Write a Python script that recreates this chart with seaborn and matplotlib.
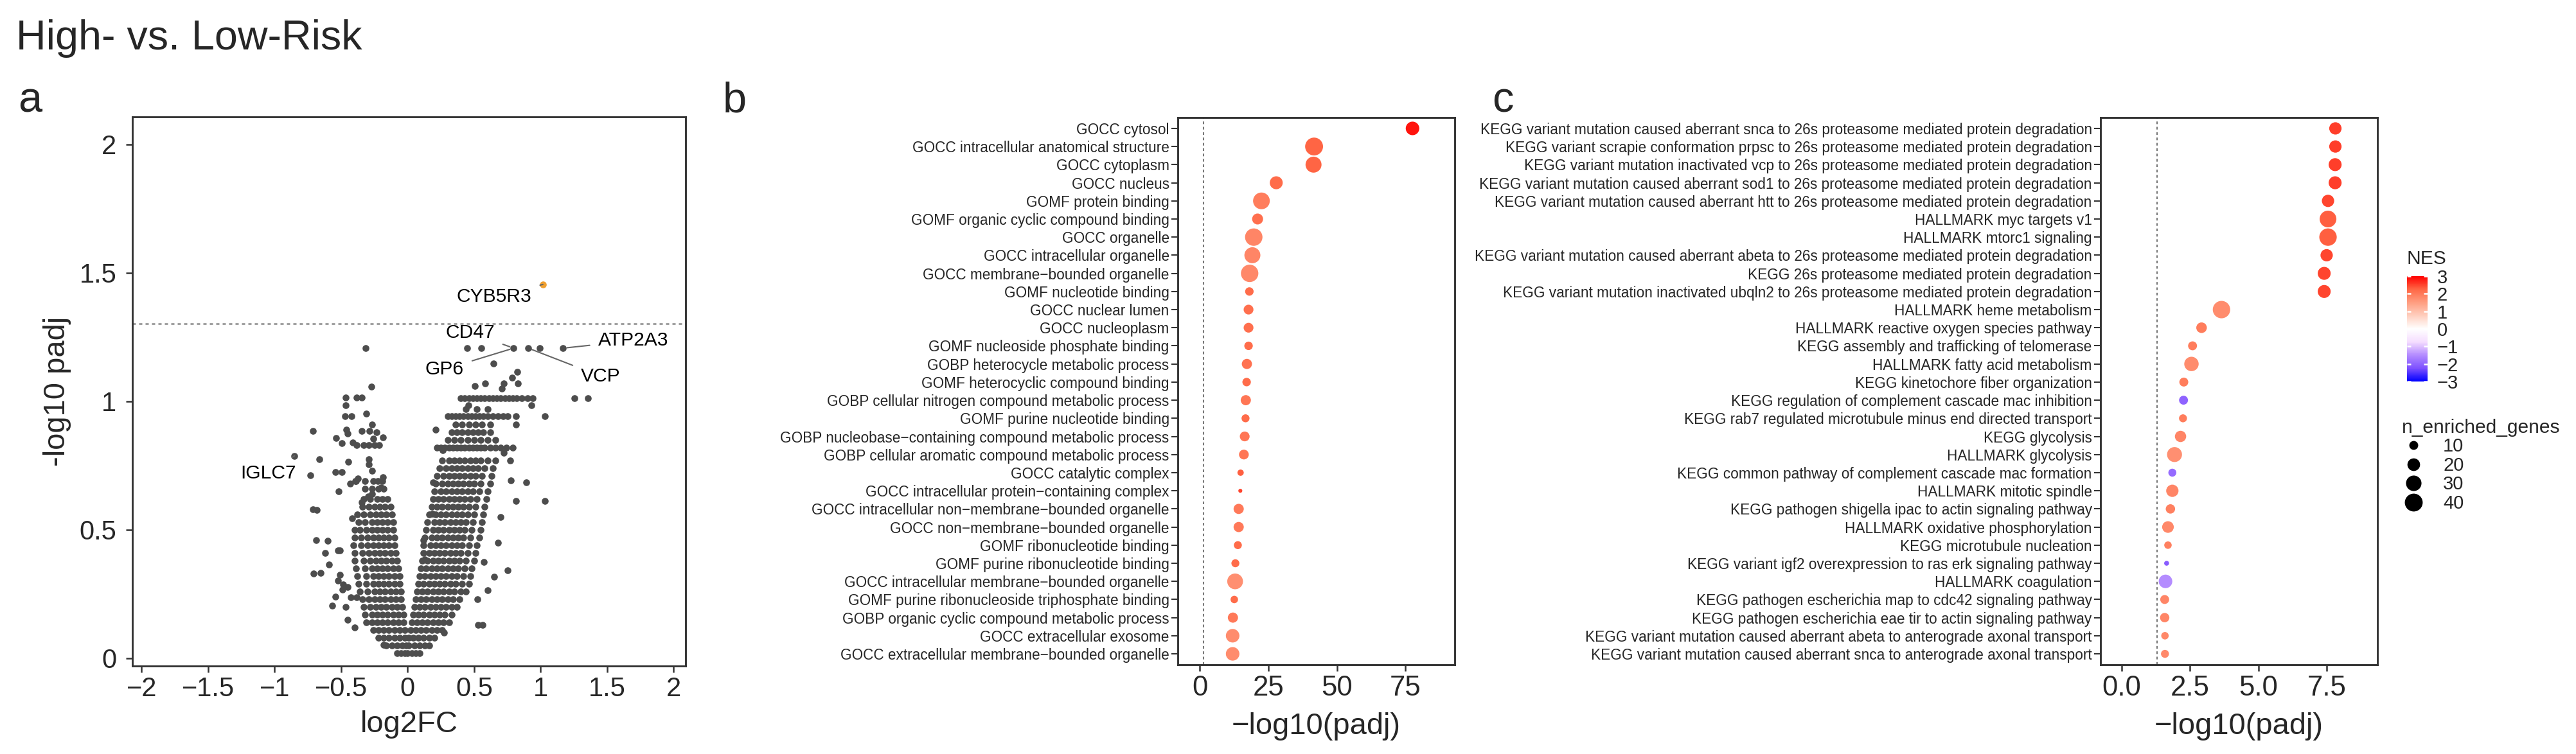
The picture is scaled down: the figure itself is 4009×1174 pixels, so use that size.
import numpy as np
import matplotlib
matplotlib.use("Agg")
import matplotlib.pyplot as plt
import seaborn as sns
from matplotlib.colors import LinearSegmentedColormap, Normalize
from matplotlib.cm import ScalarMappable
from matplotlib.lines import Line2D

# ---------------- data: volcano (panel a) ----------------
# right arm, log2FC values read along each -log10 padj level
up_levels = [0.02, 0.05, 0.08, 0.11, 0.14, 0.17, 0.20, 0.23, 0.26, 0.29, 0.32,
             0.35, 0.38, 0.41, 0.44, 0.47, 0.50, 0.53, 0.56, 0.59, 0.62, 0.65,
             0.68, 0.71, 0.74, 0.77, 0.82, 0.85, 0.88, 0.91, 0.943, 0.97, 1.013]
up_fc = [
    [0.00, 0.03, 0.06, 0.09],
    [0.01, 0.05, 0.09, 0.13, 0.16],
    [0.01, 0.04, 0.08, 0.12, 0.16, 0.20],
    [0.02, 0.06, 0.10, 0.14, 0.18, 0.22, 0.26],
    [0.03, 0.07, 0.11, 0.15, 0.19, 0.23, 0.27, 0.31],
    [0.04, 0.08, 0.12, 0.16, 0.20, 0.24, 0.28, 0.33],
    [0.05, 0.09, 0.13, 0.17, 0.21, 0.25, 0.29, 0.33, 0.37],
    [0.06, 0.10, 0.14, 0.18, 0.22, 0.26, 0.30, 0.34, 0.39],
    [0.07, 0.11, 0.15, 0.19, 0.23, 0.27, 0.31, 0.35, 0.40, 0.44],
    [0.08, 0.12, 0.16, 0.20, 0.24, 0.28, 0.32, 0.36, 0.41, 0.46],
    [0.09, 0.13, 0.17, 0.21, 0.25, 0.29, 0.33, 0.37, 0.42, 0.47],
    [0.10, 0.14, 0.18, 0.22, 0.26, 0.30, 0.34, 0.38, 0.43, 0.48],
    [0.11, 0.15, 0.19, 0.23, 0.27, 0.31, 0.35, 0.39, 0.44, 0.50],
    [0.12, 0.16, 0.20, 0.24, 0.28, 0.32, 0.36, 0.40, 0.45, 0.51],
    [0.12, 0.17, 0.21, 0.25, 0.29, 0.33, 0.37, 0.41, 0.46, 0.52],
    [0.13, 0.18, 0.22, 0.26, 0.30, 0.34, 0.38, 0.42, 0.47, 0.54],
    [0.14, 0.19, 0.23, 0.27, 0.31, 0.35, 0.39, 0.43, 0.48, 0.55],
    [0.15, 0.20, 0.24, 0.28, 0.32, 0.36, 0.40, 0.44, 0.49, 0.56],
    [0.16, 0.21, 0.25, 0.29, 0.33, 0.37, 0.41, 0.45, 0.50, 0.57],
    [0.18, 0.22, 0.26, 0.30, 0.34, 0.38, 0.42, 0.46, 0.51, 0.58],
    [0.19, 0.23, 0.27, 0.31, 0.35, 0.39, 0.43, 0.47, 0.52, 0.59],
    [0.20, 0.25, 0.29, 0.33, 0.37, 0.41, 0.45, 0.49, 0.54, 0.60],
    [0.21, 0.26, 0.30, 0.34, 0.38, 0.42, 0.46, 0.50, 0.55, 0.62],
    [0.22, 0.27, 0.31, 0.35, 0.39, 0.43, 0.47, 0.51, 0.56, 0.63],
    [0.24, 0.29, 0.33, 0.37, 0.41, 0.45, 0.49, 0.53, 0.58, 0.64],
    [0.26, 0.31, 0.35, 0.39, 0.43, 0.47, 0.51, 0.55, 0.60, 0.66],
    [0.22, 0.25, 0.28, 0.31, 0.34, 0.37, 0.40, 0.43, 0.46, 0.49, 0.52, 0.55,
     0.58, 0.62, 0.66, 0.70, 0.74, 0.79],
    [0.30, 0.35, 0.40, 0.45, 0.50, 0.55, 0.60, 0.66],
    [0.33, 0.37, 0.41, 0.45, 0.49, 0.53, 0.57, 0.62],
    [0.36, 0.41, 0.46, 0.51, 0.56, 0.62],
    [0.30, 0.33, 0.36, 0.39, 0.42, 0.45, 0.48, 0.51, 0.54, 0.57, 0.60, 0.64,
     0.68, 0.72, 0.75],
    [0.44, 0.52, 0.60],
    [0.40, 0.43, 0.46, 0.49, 0.52, 0.55, 0.58, 0.61, 0.64, 0.67, 0.70, 0.73,
     0.76, 0.79, 0.82, 0.86, 0.90, 0.94],
]

# left arm
down_levels = [0.02, 0.05, 0.08, 0.11, 0.14, 0.17, 0.20, 0.23, 0.26, 0.29, 0.32,
               0.35, 0.38, 0.41, 0.44, 0.47, 0.50, 0.53, 0.56, 0.59, 0.62, 0.66, 0.69]
down_fc = [
    [-0.02, -0.05, -0.08],
    [-0.01, -0.04, -0.08, -0.12, -0.16],
    [-0.02, -0.06, -0.10, -0.14, -0.18, -0.22],
    [-0.02, -0.06, -0.10, -0.14, -0.18, -0.22, -0.26],
    [-0.03, -0.07, -0.11, -0.15, -0.19, -0.23, -0.27, -0.31],
    [-0.03, -0.07, -0.11, -0.15, -0.19, -0.23, -0.27, -0.32],
    [-0.04, -0.08, -0.12, -0.16, -0.20, -0.24, -0.28, -0.33],
    [-0.05, -0.09, -0.13, -0.17, -0.21, -0.25, -0.29, -0.34],
    [-0.05, -0.09, -0.13, -0.17, -0.21, -0.25, -0.30, -0.36],
    [-0.06, -0.10, -0.14, -0.18, -0.22, -0.26, -0.31, -0.37],
    [-0.06, -0.10, -0.14, -0.18, -0.22, -0.26, -0.31, -0.38],
    [-0.07, -0.11, -0.15, -0.19, -0.23, -0.27, -0.32, -0.39],
    [-0.08, -0.12, -0.16, -0.20, -0.24, -0.28, -0.33, -0.40],
    [-0.09, -0.13, -0.17, -0.21, -0.25, -0.29, -0.34, -0.40],
    [-0.10, -0.14, -0.18, -0.22, -0.26, -0.30, -0.35, -0.41],
    [-0.10, -0.14, -0.18, -0.22, -0.26, -0.30, -0.35, -0.40],
    [-0.11, -0.15, -0.19, -0.23, -0.27, -0.31, -0.36, -0.40],
    [-0.11, -0.15, -0.19, -0.23, -0.27, -0.32, -0.37],
    [-0.12, -0.16, -0.20, -0.24, -0.28, -0.33, -0.38],
    [-0.13, -0.17, -0.21, -0.25, -0.29, -0.34],
    [-0.15, -0.19, -0.23, -0.28, -0.33],
    [-0.18, -0.22, -0.27, -0.32],
    [-0.19, -0.26, -0.32, -0.39],
]

# isolated genes outside the dense core (log2FC, -log10 padj)
stray_pts = [
    (-0.317, 1.207), (-0.274, 1.058), (-0.465, 1.014), (-0.386, 1.014), (-0.343, 1.014),
    (-0.468, 0.985), (-0.469, 0.943), (-0.421, 0.943), (-0.31, 0.953), (-0.713, 0.884),
    (-0.46, 0.89), (-0.45, 0.876), (-0.343, 0.884), (-0.285, 0.884), (-0.536, 0.857),
    (-0.493, 0.838), (-0.412, 0.841), (-0.266, 0.91), (-0.234, 0.879), (-0.185, 0.861),
    (-0.258, 0.855), (-0.383, 0.83), (-0.33, 0.83), (-0.29, 0.83), (-0.25, 0.83),
    (-0.214, 0.83), (-0.665, 0.776), (-0.851, 0.788), (-0.733, 0.712), (-0.541, 0.726),
    (-0.493, 0.726), (-0.446, 0.764), (-0.29, 0.776), (-0.29, 0.755), (-0.269, 0.73),
    (-0.373, 0.70), (-0.394, 0.69), (-0.434, 0.68), (-0.225, 0.69), (-0.185, 0.706),
    (-0.201, 0.665), (-0.519, 0.649), (-0.681, 0.577), (-0.346, 0.608), (-0.298, 0.629),
    (-0.266, 0.64), (-0.418, 0.546), (-0.599, 0.458), (-0.522, 0.419), (-0.507, 0.419),
    (-0.59, 0.364), (-0.655, 0.332), (-0.507, 0.324), (-0.526, 0.303), (-0.483, 0.288),
    (-0.451, 0.277), (-0.491, 0.267), (-0.541, 0.241), (-0.566, 0.204), (-0.466, 0.201),
    (-0.429, 0.237), (-0.386, 0.237), (-0.181, 0.052), (-0.71, 0.579), (-0.69, 0.46),
    (-0.709, 0.33), (-0.62, 0.41), (-0.45, 0.15), (-0.40, 0.12),
    (0.446, 1.207), (0.552, 1.207), (0.797, 1.207), (0.907, 1.207), (0.994, 1.207),
    (1.168, 1.207), (0.644, 1.146), (0.825, 1.115), (0.786, 1.092), (0.829, 1.069),
    (0.725, 1.069), (0.709, 1.05), (0.507, 1.06), (0.581, 1.069), (1.253, 1.013),
    (1.357, 1.013), (0.931, 0.985), (0.459, 0.985), (0.813, 0.943), (1.031, 0.943),
    (0.813, 0.91), (0.209, 0.889), (0.266, 0.81), (0.725, 0.80), (0.773, 0.77),
    (0.776, 0.692), (0.894, 0.686), (0.813, 0.613), (1.031, 0.613), (0.193, 0.686),
    (0.185, 0.563), (0.121, 0.46), (0.129, 0.386), (0.754, 0.343), (0.572, 0.376),
    (0.652, 0.318), (0.604, 0.266), (0.523, 0.229), (0.528, 0.129), (0.563, 0.129),
    (0.274, 0.10), (0.70, 0.55), (0.68, 0.45),
]

sig_fc = [1.017]
sig_nlp = [1.455]

gene_names = ["CYB5R3", "CD47", "GP6", "VCP", "ATP2A3", "IGLC7"]
gene_fc = [1.017, 0.797, 0.797, 0.907, 1.168, -0.851]
gene_nlp = [1.455, 1.207, 1.207, 1.207, 1.207, 0.788]

# ---------------- data: GO enrichment (panel b) ----------------
go_terms = [
    "GOCC cytosol", "GOCC intracellular anatomical structure", "GOCC cytoplasm",
    "GOCC nucleus", "GOMF protein binding", "GOMF organic cyclic compound binding",
    "GOCC organelle", "GOCC intracellular organelle", "GOCC membrane\u2212bounded organelle",
    "GOMF nucleotide binding", "GOCC nuclear lumen", "GOCC nucleoplasm",
    "GOMF nucleoside phosphate binding", "GOBP heterocycle metabolic process",
    "GOMF heterocyclic compound binding", "GOBP cellular nitrogen compound metabolic process",
    "GOMF purine nucleotide binding", "GOBP nucleobase\u2212containing compound metabolic process",
    "GOBP cellular aromatic compound metabolic process", "GOCC catalytic complex",
    "GOCC intracellular protein\u2212containing complex",
    "GOCC intracellular non\u2212membrane\u2212bounded organelle",
    "GOCC non\u2212membrane\u2212bounded organelle", "GOMF ribonucleotide binding",
    "GOMF purine ribonucleotide binding", "GOCC intracellular membrane\u2212bounded organelle",
    "GOMF purine ribonucleoside triphosphate binding",
    "GOBP organic cyclic compound metabolic process", "GOCC extracellular exosome",
    "GOCC extracellular membrane\u2212bounded organelle",
]
go_padj = [77.6, 41.7, 41.5, 27.9, 22.5, 21.1, 19.7, 19.2, 18.2, 18.1, 17.8, 17.8,
           17.8, 17.2, 17.1, 16.8, 16.7, 16.4, 16.1, 14.9, 14.8, 14.2, 14.2, 13.9,
           13.0, 12.9, 12.6, 12.1, 12.0, 12.0]
go_n = [23, 40, 32, 21, 35, 15, 38, 32, 38, 9, 12, 12, 9, 13, 9, 13, 8, 12, 12, 5,
        2, 13, 13, 8, 8, 31, 7, 13, 23, 23]
go_nes = [2.85, 2.25, 2.25, 2.2, 1.95, 2.15, 1.85, 1.85, 1.8, 2.2, 2.15, 2.15, 2.2,
          2.1, 2.2, 2.05, 2.2, 2.05, 2.05, 2.3, 2.5, 2.0, 2.0, 2.2, 2.2, 1.7, 2.2,
          2.0, 1.75, 1.75]

# ---------------- data: KEGG / HALLMARK enrichment (panel c) ----------------
pw_terms = [
    "KEGG variant mutation caused aberrant snca to 26s proteasome mediated protein degradation",
    "KEGG variant scrapie conformation prpsc to 26s proteasome mediated protein degradation",
    "KEGG variant mutation inactivated vcp to 26s proteasome mediated protein degradation",
    "KEGG variant mutation caused aberrant sod1 to 26s proteasome mediated protein degradation",
    "KEGG variant mutation caused aberrant htt to 26s proteasome mediated protein degradation",
    "HALLMARK myc targets v1",
    "HALLMARK mtorc1 signaling",
    "KEGG variant mutation caused aberrant abeta to 26s proteasome mediated protein degradation",
    "KEGG 26s proteasome mediated protein degradation",
    "KEGG variant mutation inactivated ubqln2 to 26s proteasome mediated protein degradation",
    "HALLMARK heme metabolism",
    "HALLMARK reactive oxygen species pathway",
    "KEGG assembly and trafficking of telomerase",
    "HALLMARK fatty acid metabolism",
    "KEGG kinetochore fiber organization",
    "KEGG regulation of complement cascade mac inhibition",
    "KEGG rab7 regulated microtubule minus end directed transport",
    "KEGG glycolysis",
    "HALLMARK glycolysis",
    "KEGG common pathway of complement cascade mac formation",
    "HALLMARK mitotic spindle",
    "KEGG pathogen shigella ipac to actin signaling pathway",
    "HALLMARK oxidative phosphorylation",
    "KEGG microtubule nucleation",
    "KEGG variant igf2 overexpression to ras erk signaling pathway",
    "HALLMARK coagulation",
    "KEGG pathogen escherichia map to cdc42 signaling pathway",
    "KEGG pathogen escherichia eae tir to actin signaling pathway",
    "KEGG variant mutation caused aberrant abeta to anterograde axonal transport",
    "KEGG variant mutation caused aberrant snca to anterograde axonal transport",
]
pw_padj = [7.82, 7.82, 7.81, 7.81, 7.55, 7.55, 7.55, 7.50, 7.41, 7.41, 3.65, 2.92,
           2.59, 2.55, 2.27, 2.26, 2.24, 2.15, 1.93, 1.85, 1.85, 1.78, 1.69, 1.69,
           1.64, 1.60, 1.57, 1.57, 1.58, 1.58]
pw_n = [19, 19, 21, 21, 19, 35, 38, 19, 21, 21, 38, 14, 10, 26, 10, 10, 8, 16, 28, 8,
        19, 11, 17, 7, 3, 23, 10, 11, 7, 8]
pw_nes = [2.55, 2.55, 2.55, 2.55, 2.5, 2.3, 2.3, 2.5, 2.5, 2.5, 1.75, 1.95, 1.95, 1.75,
          1.95, -2.0, 1.95, 1.85, 1.7, -1.9, 1.85, 1.9, 1.8, 1.9, -2.1, -1.5, 1.85,
          1.85, 1.8, 1.8]

legend_n = [10, 20, 30, 40]
nes_ticks = [-3, -2, -1, 0, 1, 2, 3]

# ---------------- style ----------------
sns.set_style("ticks")
plt.rcParams['font.family'] = ['Liberation Sans', 'DejaVu Sans']
plt.rcParams['axes.linewidth'] = 0.7
plt.rcParams['axes.edgecolor'] = '#333333'

W, H, DPI = 4009, 1174, 300
AREA = 1.115  # marker area (pt^2) per enriched gene

nes_cmap = LinearSegmentedColormap.from_list(
    "nes", [(0.0, "#0000FF"), (0.125, "#7E51FF"), (0.25, "#B38BFF"),
            (0.375, "#F5DDFF"), (0.5, "#FFFFFF"), (0.625, "#FFCFBF"),
            (0.75, "#FF9E81"), (0.875, "#FF6846"), (1.0, "#FF0000")])
nes_norm = Normalize(-3, 3)


def px_box(l, t, r, b):
    return [l / W, 1 - b / H, (r - l) / W, (b - t) / H]


fig = plt.figure(figsize=(W / DPI, H / DPI), dpi=DPI)

# ---------------- panel a ----------------
vol_fc, vol_nlp = [], []
for lev, row in zip(up_levels, up_fc):
    vol_fc += row
    vol_nlp += [lev] * len(row)
for lev, row in zip(down_levels, down_fc):
    vol_fc += row
    vol_nlp += [lev] * len(row)
vol_fc += [p[0] for p in stray_pts]
vol_nlp += [p[1] for p in stray_pts]

ax_a = fig.add_axes(px_box(206, 182, 1067, 1037))
sns.scatterplot(x=vol_fc, y=vol_nlp, color="#4d4d4d", s=6.5, linewidth=0, ax=ax_a)
sns.scatterplot(x=sig_fc, y=sig_nlp, color="#F0A030", s=6.5, linewidth=0, ax=ax_a)
ax_a.axhline(-np.log10(0.05), color="#8a8a8a", lw=0.6, ls=(0, (2, 2)))

label_x = [0.651, 0.469, 0.278, 1.451, 1.696, -1.05]
label_y = [1.406, 1.268, 1.125, 1.098, 1.236, 0.719]
for name, gx, gy, lx, ly in zip(gene_names, gene_fc, gene_nlp, label_x, label_y):
    ax_a.annotate(name, xy=(gx, gy), xytext=(lx, ly), ha="center", va="center",
                  fontsize=7.2, color="black",
                  arrowprops=dict(arrowstyle="-", color="#666666", lw=0.5,
                                  shrinkA=1, shrinkB=1.5))

ax_a.set_xlim(-2.07, 2.09)
ax_a.set_ylim(-0.03, 2.107)
ax_a.set_xticks([-2, -1.5, -1, -0.5, 0, 0.5, 1, 1.5, 2])
ax_a.set_xticklabels(["\u22122", "\u22121.5", "\u22121", "\u22120.5", "0", "0.5", "1", "1.5", "2"])
ax_a.set_yticks([0, 0.5, 1, 1.5, 2])
ax_a.set_yticklabels(["0", "0.5", "1", "1.5", "2"])
ax_a.tick_params(axis="both", labelsize=10, length=2.4, width=0.6, color="#333333")
ax_a.tick_params(axis="y", pad=3.5)
ax_a.tick_params(axis="x", pad=1.5)
ax_a.set_xlabel("log2FC", fontsize=11.3, labelpad=3)
ax_a.set_ylabel("-log10 padj", fontsize=11.3, labelpad=3)


# ---------------- panels b and c ----------------
def dot_panel(ax, terms, padj, n, nes, xlim, xticks, xticklabels):
    sns.scatterplot(x=padj, y=terms, hue=nes, palette=nes_cmap, hue_norm=nes_norm,
                    size=n, sizes=(AREA * min(n), AREA * max(n)),
                    size_norm=(min(n), max(n)), linewidth=0, legend=False, ax=ax)
    ax.axvline(-np.log10(0.05), color="#777777", lw=0.5, ls=(0, (2, 2)), zorder=0)
    ax.set_ylim(len(terms) - 0.4, -0.6)
    ax.set_xlim(*xlim)
    ax.set_xticks(xticks)
    ax.set_xticklabels(xticklabels)
    ax.tick_params(axis="y", labelsize=5.45, length=2.4, width=0.5, pad=0.8,
                   color="#333333")
    ax.tick_params(axis="x", labelsize=10.5, length=2.4, width=0.6, pad=1.5,
                   color="#333333")
    ax.set_xlabel("\u2212log10(padj)", fontsize=11.3, labelpad=4)
    ax.set_ylabel("")


ax_b = fig.add_axes(px_box(1833, 183, 2264, 1035))
dot_panel(ax_b, go_terms, go_padj, go_n, go_nes, (-8, 93), [0, 25, 50, 75],
          ["0", "25", "50", "75"])

ax_c = fig.add_axes(px_box(3269, 183, 3700, 1035))
dot_panel(ax_c, pw_terms, pw_padj, pw_n, pw_nes, (-0.78, 9.36), [0, 2.5, 5, 7.5],
          ["0.0", "2.5", "5.0", "7.5"])

# ---------------- legends ----------------
fig.text(3746 / W, 1 - 411 / H, "NES", fontsize=7.2, va="baseline")
cax = fig.add_axes(px_box(3746, 430, 3778, 594))
cbar = fig.colorbar(ScalarMappable(norm=nes_norm, cmap=nes_cmap), cax=cax, ticks=nes_ticks)
cbar.outline.set_visible(False)
cax.tick_params(length=0, labelsize=7, pad=3.5)
cax.hlines(nes_ticks, 0, 0.2, colors="white", lw=0.6)
cax.hlines(nes_ticks, 0.8, 1, colors="white", lw=0.6)

handles = [Line2D([0], [0], marker="o", ls="", color="black", markeredgewidth=0,
                  markersize=np.sqrt(AREA * v)) for v in legend_n]
fig.legend(handles, [str(v) for v in legend_n], title="n_enriched_genes",
           loc="upper left", bbox_to_anchor=(3738 / W, 1 - 652 / H), frameon=False,
           fontsize=7, title_fontsize=7.2, labelspacing=0.05, handletextpad=1.0,
           handlelength=1.2, borderpad=0, borderaxespad=0, alignment="left")

# ---------------- titles ----------------
fig.text(25 / W, 1 - 77 / H, "High- vs. Low-Risk", fontsize=15.5, va="baseline")
for letter, lx in zip(["a", "b", "c"], [28, 1125, 2322]):
    fig.text(lx / W, 1 - 175 / H, letter, fontsize=16, va="baseline")

fig.savefig("out.png", dpi=DPI)
